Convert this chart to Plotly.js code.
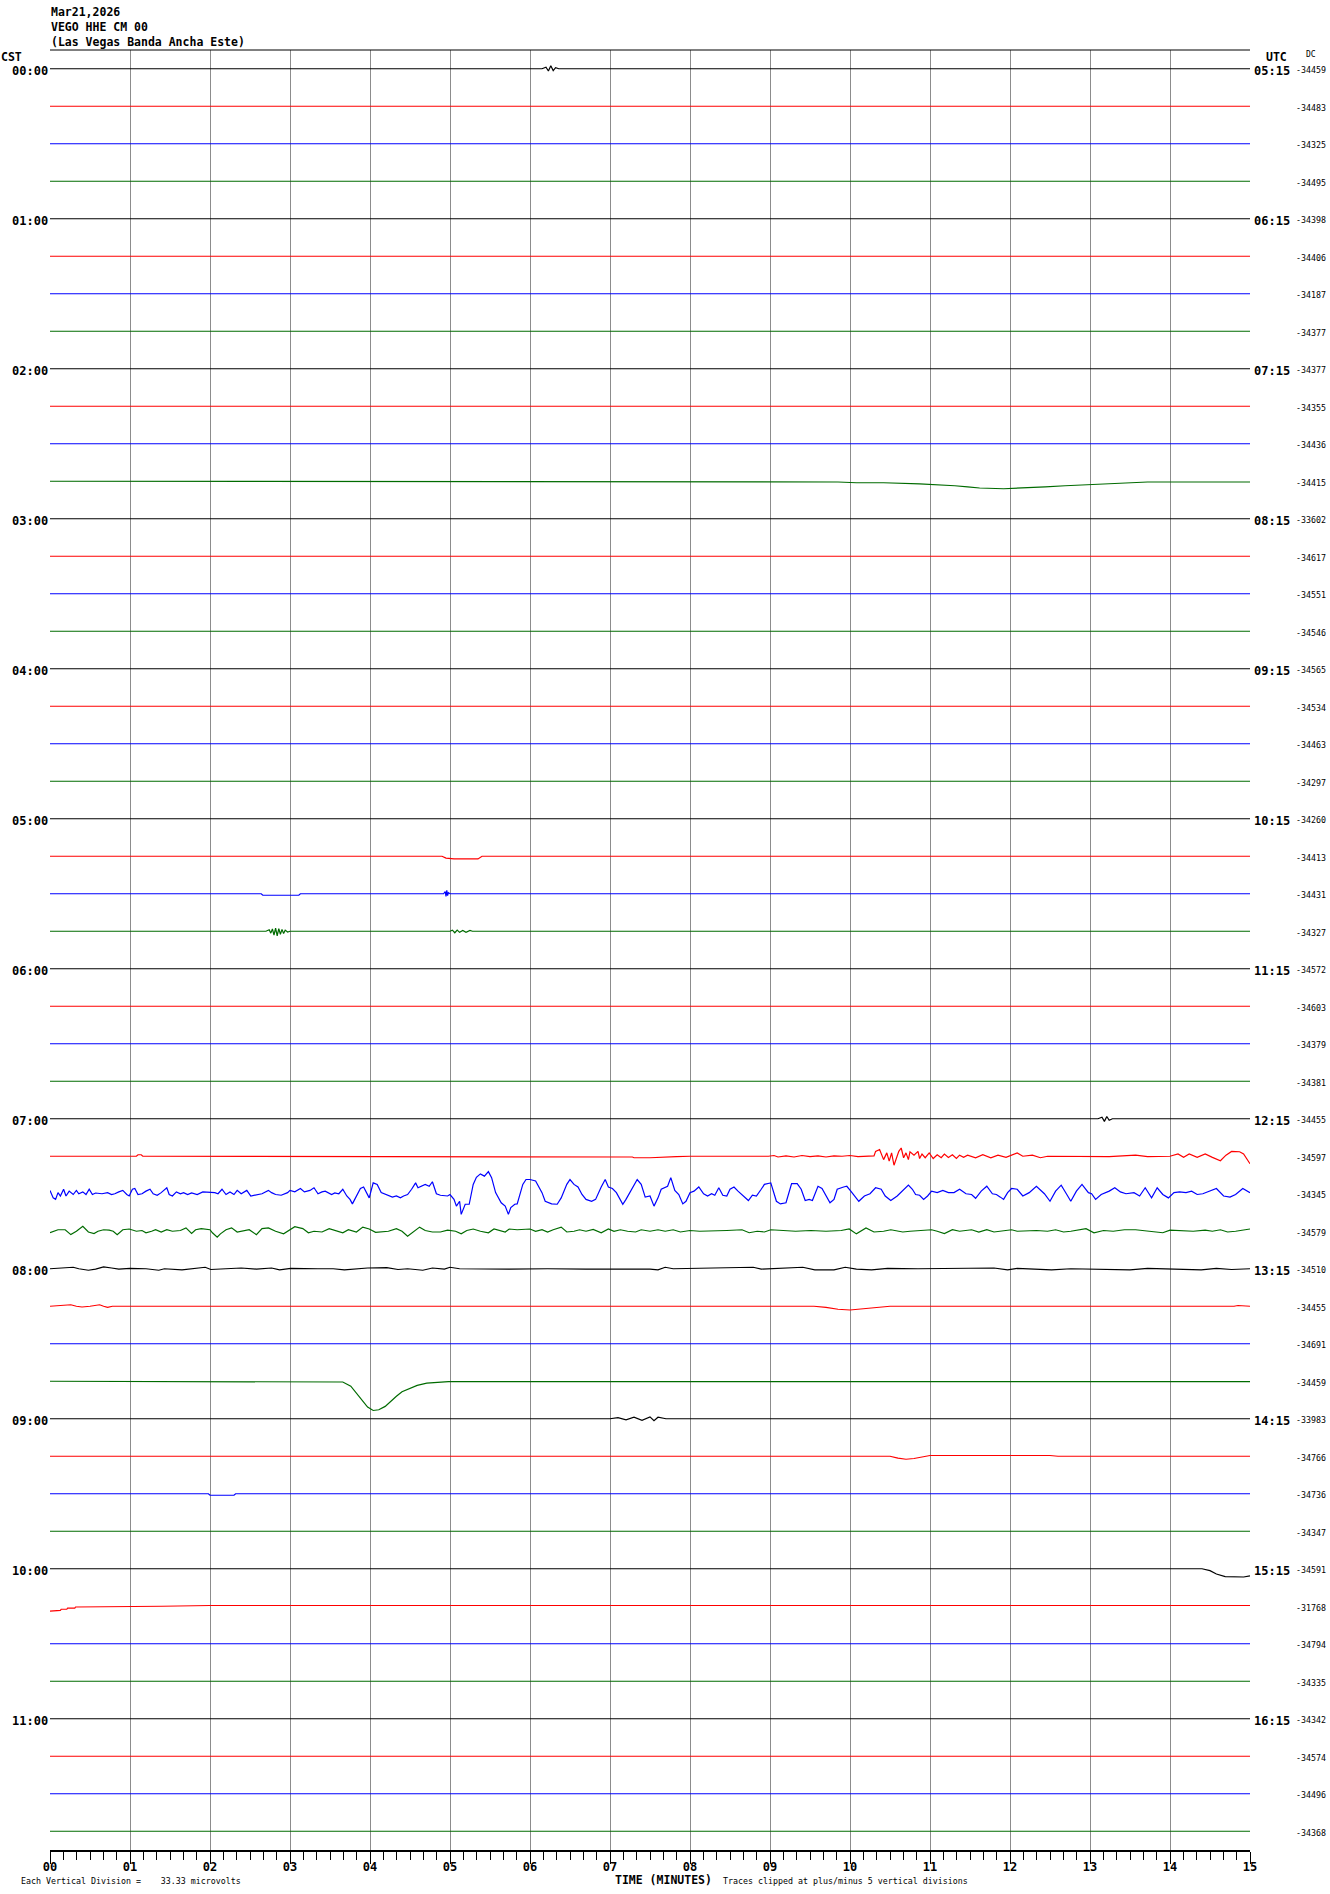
<!DOCTYPE html>
<html>
<head>
<meta charset="utf-8">
<script src="https://cdn.plot.ly/plotly-3.0.1.min.js"></script>
<style>
html,body{margin:0;padding:0;background:#fff;}
#chart{width:1330px;height:1894px;}
</style>
</head>
<body>
<div id="chart"></div>
<script>
// ---------------- DATA ----------------
const titleLines = ['Mar21,2026', 'VEGO HHE CM 00', '(Las Vegas Banda Ancha Este)'];
const tickLabels = ['00','01','02','03','04','05','06','07','08','09','10','11','12','13','14','15'];
const tickValues = [0,1,2,3,4,5,6,7,8,9,10,11,12,13,14,15];
const cstLabels = ['00:00','01:00','02:00','03:00','04:00','05:00','06:00','07:00','08:00','09:00','10:00','11:00'];
const utcLabels = ['05:15','06:15','07:15','08:15','09:15','10:15','11:15','12:15','13:15','14:15','15:15','16:15'];
const dcValues = [-34459,-34483,-34325,-34495,-34398,-34406,-34187,-34377,
                  -34377,-34355,-34436,-34415,-33602,-34617,-34551,-34546,
                  -34565,-34534,-34463,-34297,-34260,-34413,-34431,-34327,
                  -34572,-34603,-34379,-34381,-34455,-34597,-34345,-34579,
                  -34510,-34455,-34691,-34459,-33983,-34766,-34736,-34347,
                  -34591,-31768,-34794,-34335,-34342,-34574,-34496,-34368];
const traceColors = ['#000000', '#ff0000', '#0000ff', '#006b00'];
const nTraces = 48;
const scaleNote = 'Each Vertical Division =\u00a0\u00a0\u00a0\u00a033.33 microvolts';
const clipNote = 'Traces clipped at plus/minus 5 vertical divisions';

// quiet trace: time (minutes), deviation (percent of trace spacing, + = up)
const quietT = [0, 15];
const quietV = [0, 0];

// 00:00 black, small burst near 6.26 min
const t00 = [0, 6.15, 6.2, 6.23, 6.26, 6.29, 6.32, 6.36, 15];
const v00 = [0, 0, 4, -6, 8, -5, 3, 0, 0];

// 01:45 green, tiny sag
const t07 = [0, 9.0, 9.05, 9.4, 9.45, 15];
const v07 = [0, 0, -2, -2, 0, 0];

// 02:45 green, slow sag 10-14 min
const t11 = [0, 9.82, 9.85, 10.08, 10.42, 10.87, 11.11, 11.31, 11.47, 11.62, 11.92, 12.24, 12.44, 12.69, 12.91, 13.18, 13.50, 13.72, 15];
const v11 = [0, 0, -2, -4, -4, -7, -9, -12, -15, -18, -20, -18, -15, -12, -10, -6, -4, -2, -2];

// 03:00 black, small raise
const t12 = [0, 2.1, 2.2, 3.0, 3.05, 15];
const v12 = [0, 0, 2, 2, 0, 0];

// 05:15 red
const t21 = [0, 4.9, 4.95, 5.05, 5.35, 5.4, 15];
const v21 = [0, 0, -5, -7, -7, 0, 0];

// 05:30 blue
const t22 = [0, 2.64, 2.66, 3.11, 3.13, 4.92, 4.94, 4.95, 4.96, 4.97, 4.98, 5.0, 15];
const v22 = [0, 0, -4, -4, 0, 0, 6, -7, 9, -5, 3, 0, 0];

// 05:45 green, two small bursts
const t23 = [0, 2.7, 2.74, 2.76, 2.78, 2.80, 2.82, 2.84, 2.86, 2.88, 2.90, 2.92, 2.94, 2.97, 3.0, 5.0, 5.03, 5.06, 5.09, 5.12, 5.16, 5.2, 5.25, 5.28, 15];
const v23 = [0, 0, 4, -5, 6, -10, 8, -12, 7, -8, 5, -6, 3, -2, 0, 0, 3, -4, 3, -3, 2, -3, 2, 0, 0];

// 07:00 black, small burst near 13.2 min
const t28 = [0, 13.1, 13.15, 13.18, 13.21, 13.24, 13.28, 15];
const v28 = [0, 0, 4, -7, 6, -4, 0, 0];

// 07:15 red
const t29 = [0, 1.08, 1.1, 1.14, 1.16, 5.0, 5.02, 7.28, 7.30, 7.5, 7.83, 8.0, 8.98, 9.05, 9.1, 9.2, 9.3, 9.4, 9.5, 9.6, 9.7, 9.8, 9.9, 10.0, 10.1, 10.2, 10.3,
  10.32, 10.37, 10.42, 10.46, 10.49, 10.52, 10.55, 10.59, 10.61, 10.64, 10.67, 10.70, 10.73, 10.75, 10.80, 10.85, 10.87, 10.90, 10.94, 10.99,
  11.04, 11.09, 11.14, 11.18, 11.23, 11.28, 11.33, 11.37, 11.42, 11.47, 11.57, 11.66, 11.76, 11.85, 11.95, 12.09, 12.16, 12.28, 12.38, 12.47,
  12.76, 13.24, 13.57, 13.72, 14.00, 14.10, 14.17, 14.24, 14.34, 14.44, 14.53, 14.63, 14.70, 14.77, 14.87, 14.92, 15.0];
const v29 = [0, 0, 4, 4, 0, 0, -2, -2, -4, -4, -1, 0, 0, 2, -2, 1, -2, 2, -1, 1, -2, 1, 0, 2, -1, 0, 1,
  13, 18, -9, 9, -13, 9, -24, 4, 13, 22, -4, 9, -9, 12, 3, 13, -6, 6, -4, 9,
  -6, 4, -4, 6, -3, 4, -6, 3, -3, 3, -4, 4, -4, 3, -3, 9, 0, 3, -4, 0,
  0, -1, 3, -1, 0, 6, -3, 6, -3, 6, -3, -12, 3, 13, 12, 6, -20];

// 07:30 blue, long-period waves
const t30 = [0.00, 0.04, 0.07, 0.10, 0.13, 0.17, 0.20, 0.24, 0.29, 0.33, 0.36, 0.41, 0.45, 0.49, 0.53, 0.57, 0.65, 0.72, 0.77, 0.81, 0.86, 0.91, 0.96, 0.99,
  1.03, 1.06, 1.10, 1.15, 1.20, 1.25, 1.29, 1.34, 1.39, 1.46, 1.49, 1.53, 1.58, 1.63, 1.67, 1.72, 1.77, 1.84, 1.91,
  2.00, 2.06, 2.10, 2.15, 2.20, 2.25, 2.30, 2.34, 2.39, 2.46, 2.51, 2.58, 2.65, 2.73, 2.77, 2.82, 2.89, 2.97,
  3.00, 3.06, 3.13, 3.18, 3.25, 3.30, 3.35, 3.40, 3.44, 3.52, 3.56, 3.61, 3.66, 3.71, 3.75, 3.78, 3.83, 3.88, 3.92, 3.97, 3.99,
  4.04, 4.09, 4.14, 4.21, 4.28, 4.33, 4.38, 4.42, 4.47, 4.52, 4.57, 4.60, 4.64, 4.69, 4.74, 4.78, 4.83, 4.88, 4.97,
  5.00, 5.05, 5.08, 5.12, 5.14, 5.19, 5.24, 5.29, 5.33, 5.38, 5.43, 5.48, 5.52, 5.57, 5.64, 5.69, 5.73, 5.76, 5.81, 5.84, 5.91, 5.95,
  6.00, 6.07, 6.15, 6.19, 6.27, 6.34, 6.39, 6.46, 6.50, 6.55, 6.60, 6.65, 6.70, 6.77, 6.82, 6.89, 6.94, 6.98,
  7.03, 7.08, 7.13, 7.16, 7.20, 7.27, 7.34, 7.39, 7.44, 7.50, 7.55, 7.60, 7.64, 7.72, 7.76, 7.81, 7.86, 7.91, 7.95,
  8.00, 8.05, 8.11, 8.17, 8.22, 8.27, 8.31, 8.36, 8.41, 8.46, 8.50, 8.55, 8.60, 8.67, 8.73, 8.78, 8.83, 8.89, 8.93, 8.99,
  9.01, 9.08, 9.13, 9.20, 9.27, 9.34, 9.39, 9.44, 9.49, 9.53, 9.60, 9.65, 9.70, 9.75, 9.80, 9.84, 9.92, 9.96,
  10.01, 10.06, 10.11, 10.18, 10.25, 10.32, 10.39, 10.44, 10.51, 10.59, 10.66, 10.73, 10.78, 10.82, 10.87, 10.92, 10.97,
  11.02, 11.09, 11.16, 11.23, 11.30, 11.37, 11.45, 11.52, 11.57, 11.64, 11.71, 11.78, 11.83, 11.88, 11.92, 11.97,
  12.02, 12.09, 12.16, 12.24, 12.33, 12.43, 12.50, 12.57, 12.64, 12.71, 12.76, 12.83, 12.90, 12.98,
  13.02, 13.07, 13.14, 13.24, 13.31, 13.38, 13.45, 13.55, 13.62, 13.69, 13.77, 13.84, 13.91, 13.98,
  14.05, 14.12, 14.20, 14.27, 14.34, 14.41, 14.48, 14.58, 14.67, 14.75, 14.82, 14.91, 15.00];
const v30 = [9, -11, -15, 3, -6, 12, -6, 7, -2, 9, 0, 5, -2, 12, -2, 2, 0, 3, -2, 0, 5, 9, -2, -6,
  12, 14, -2, 0, 7, 12, 0, -4, 3, 16, -2, -6, 5, 0, 3, -2, 2, -2, 5,
  5, 3, 0, 12, -2, 5, -2, 9, 0, 9, -6, -4, 0, 9, 3, -2, -4, 3,
  9, 5, 14, 5, 9, 16, 0, 5, 7, -2, 2, 0, 12, -6, -15, -27, -6, 14, 18, -6, -11,
  29, 25, 3, -2, -9, -6, -11, -6, -2, 12, 29, 16, 20, 25, 20, 32, 0, -4, -6,
  -2, -15, -33, -20, -55, -28, -28, 25, 44, 53, 47, 59, 43, 3, -24, -33, -55, -37, -28, -27, 25, 38,
  38, 34, 3, -20, -27, -28, -11, 25, 38, 25, 18, -2, -15, -20, -15, 18, 38, 18,
  14, 3, -15, -28, -15, 12, 38, 25, -9, -6, -33, -11, 12, 20, 43, 9, -2, -27, -20,
  3, 7, 18, 0, -6, 0, -4, 16, -4, -6, 12, 18, 7, -6, -18, -4, -6, 12, 25, 28,
  29, -20, -27, -24, 27, 27, 12, -18, -15, -18, 20, 14, -6, -24, -15, 12, 18, 20,
  7, -6, -20, -6, 0, 16, 12, -6, -18, -6, 9, 23, 12, -2, -4, -15, -6,
  7, 3, 9, 3, 3, 12, 0, -2, -12, 7, 20, 0, -2, -9, -15, 3,
  14, 12, -6, 3, 20, 0, -20, 7, 23, -2, -20, 7, 25, 3,
  0, -15, -2, 7, 16, 5, 0, 3, -6, 16, -11, 16, -2, -11,
  3, 5, 3, 7, -2, 0, 5, 14, -6, -9, -2, 14, 3];

// 07:45 green, short-period ripples
const t31 = [0.00, 0.10, 0.19, 0.26, 0.33, 0.41, 0.48, 0.55, 0.60, 0.67, 0.74, 0.79, 0.84, 0.91, 0.99,
  1.08, 1.15, 1.20, 1.27, 1.32, 1.39, 1.46, 1.53, 1.63, 1.70, 1.77, 1.82, 1.89,
  2.00, 2.03, 2.09, 2.13, 2.20, 2.27, 2.34, 2.42, 2.49, 2.58, 2.65, 2.73, 2.82, 2.92,
  3.00, 3.06, 3.16, 3.23, 3.30, 3.40, 3.49, 3.59, 3.66, 3.73, 3.83, 3.91, 3.99,
  4.07, 4.16, 4.23, 4.33, 4.40, 4.47, 4.54, 4.62, 4.69, 4.78, 4.88, 4.97,
  5.07, 5.14, 5.21, 5.29, 5.38, 5.48, 5.55, 5.62, 5.69, 5.74, 5.84,
  6.00, 6.07, 6.15, 6.22, 6.29, 6.39, 6.46, 6.55, 6.62, 6.70, 6.79, 6.89, 6.98,
  7.05, 7.13, 7.22, 7.32, 7.39, 7.50, 7.60, 7.69, 7.79, 7.88,
  8.00, 8.12, 8.27, 8.46, 8.65, 8.74, 8.84, 8.93, 9.01, 9.13, 9.32, 9.51, 9.70, 9.89, 9.99,
  10.08, 10.20, 10.30, 10.42, 10.51, 10.66, 10.75, 11.02, 11.09, 11.18, 11.28, 11.37, 11.52, 11.61, 11.71, 11.80,
  12.02, 12.09, 12.33, 12.47, 12.57, 12.67, 12.76, 12.86, 12.95, 13.05, 13.17, 13.29, 13.43, 13.57, 13.72, 13.91,
  14.00, 14.10, 14.29, 14.44, 14.53, 14.63, 14.72, 14.82, 14.91, 15.00];
const v31 = [-4, 4, 4, -9, 0, 13, -2, -6, 0, 4, 3, 0, -9, 4, 6,
  0, 2, -4, 0, 4, -2, 4, 0, 2, 9, -6, 4, 7,
  4, -4, -16, -7, 4, 9, -2, 2, 4, -9, 7, 9, 0, -7,
  4, 12, 7, -4, 0, -2, 7, 0, -4, 4, -2, 11, 6,
  -3, -2, 0, 7, 0, -13, -2, 11, 2, -2, -2, 3,
  0, -7, 2, 6, 0, -4, 6, 2, -2, 6, 4,
  6, 0, 4, -2, 4, 11, -2, 0, 4, 0, 5, -4, 6,
  0, 4, 0, -2, 4, 0, 4, 0, 4, -2,
  2, 0, 0, 2, 4, -4, 0, -2, 4, 3, 0, 2, 0, 2, 6,
  -7, 9, -2, 0, 4, -2, 0, 4, 0, -6, 4, 0, 4, -2, 4, -2,
  4, 0, 2, 0, 4, -2, 0, 4, 7, -4, 2, 0, 4, 4, 0, -4,
  3, 2, 0, 3, 0, 4, -2, 0, 4, 6];

// 08:00 black, gentle wiggles
const t32 = [0, 0.29, 0.36, 0.48, 0.57, 0.67, 0.77, 0.86, 1.00, 1.20, 1.36, 1.43, 1.65, 1.82, 1.94, 2.01, 2.20, 2.39, 2.58, 2.77, 2.87,
  3.01, 3.35, 3.54, 3.68, 3.87, 3.97, 4.21, 4.35, 4.47, 4.66, 4.78, 4.93, 5.00, 5.12, 5.74, 6.22, 6.70, 7.17, 7.5, 7.60, 7.69, 7.79,
  8.03, 8.31, 8.79, 8.89, 9.41, 9.56, 9.80, 9.94, 10.08, 10.27, 10.47, 10.85, 11.80, 11.97, 12.09, 12.52, 12.76, 13.50, 13.72, 14.39, 14.58, 14.77, 15];
const v32 = [0, 4, 0, -4, -1, 5, 2, -1, 1, 0, -4, 0, -3, 2, 4, -2, 0, 2, -1, 2, -3,
  1, 0, 0, -3, 0, 2, 3, -2, 0, -4, 2, -1, 4, 0, -1, 0, -1, 0, -1, -3, 4, 0,
  1, 2, 4, -1, 4, -3, -3, 4, -1, -3, 1, 0, 2, -3, 1, -3, 0, -3, 1, -3, 1, -2, 0];

// 08:15 red, shallow dip near 10 min
const t33 = [0, 0.26, 0.33, 0.40, 0.5, 0.62, 0.67, 0.72, 0.78, 1.3, 1.35, 1.4, 9.55, 9.7, 9.85, 10.0, 10.1, 10.25, 10.4, 10.5, 14.8, 14.85, 15];
const v33 = [0, 4, 0, -2, 0, 4, 0, -3, 0, 0, -2, 0, 0, -3, -8, -10, -8, -3, -1, 0, 0, 2, 0];

// 08:45 green, large dip near 4 min
const t35 = [0, 3.66, 3.76, 3.83, 3.90, 3.97, 4.04, 4.11, 4.19, 4.26, 4.33, 4.40, 4.50, 4.59, 4.71, 4.83, 4.98, 15];
const v35 = [0, -2, -13, -31, -49, -69, -78, -76, -67, -53, -40, -28, -18, -11, -5, -3, -1, -1];

// 09:00 black, noise patch
const t36 = [0, 7.0, 7.1, 7.2, 7.3, 7.4, 7.5, 7.55, 7.6, 7.7, 15];
const v36 = [0, 0, 3, -3, 4, -4, 5, -5, 4, 0, 0];

// 09:15 red
const t37 = [0, 10.5, 10.6, 10.7, 10.8, 10.9, 11.0, 12.5, 12.6, 15];
const v37 = [0, 0, -5, -8, -6, -1, 2, 2, 0, 0];

// 09:30 blue
const t38 = [0, 1.98, 2.0, 2.3, 2.32, 15];
const v38 = [0, 0, -4, -4, 0, 0];

// 10:00 black, drop at end
const t40 = [0, 14.40, 14.50, 14.58, 14.69, 14.77, 14.92, 15.0];
const v40 = [0, 0, -5, -14, -21, -22, -22, -19];

// 10:15 red, recovering offset at start
const t41 = [0, 0.04, 0.05, 0.13, 0.14, 0.21, 0.22, 0.31, 0.32, 0.48, 0.49, 1.4, 2.0, 15];
const v41 = [-13, -13, -11, -11, -8, -8, -5, -5, -2, -2, 0, 0, 2, 2];

// ---------------- BUILD ----------------
const featureSeries = {
  0: [t00, v00], 7: [t07, v07], 11: [t11, v11], 12: [t12, v12],
  21: [t21, v21], 22: [t22, v22], 23: [t23, v23], 28: [t28, v28],
  29: [t29, v29], 30: [t30, v30], 31: [t31, v31], 32: [t32, v32],
  33: [t33, v33], 35: [t35, v35], 36: [t36, v36], 37: [t37, v37],
  38: [t38, v38], 40: [t40, v40], 41: [t41, v41]
};

const FONT = 'DejaVu Sans Mono';
const PLOT_L = 50, PLOT_R = 1250, PLOT_T = 50, PLOT_B = 1850;
function px2x(px){ return (px - PLOT_L) / (PLOT_R - PLOT_L); }
function py2y(py){ return (PLOT_B - py) / (PLOT_B - PLOT_T); }

const data = [];
for (let i = 0; i < nTraces; i++) {
  const s = featureSeries[i] || [quietT, quietV];
  data.push({
    type: 'scatter', mode: 'lines',
    x: s[0],
    y: s[1].map(v => i - v / 100),
    line: {color: traceColors[i % 4], width: 1.2},
    hoverinfo: 'skip', showlegend: false
  });
}

const ann = [];
titleLines.forEach((t, k) => {
  ann.push({xref:'paper', yref:'paper', x: px2x(50), y: py2y(12 + 15 * k), xanchor:'left', yanchor:'middle',
    text: t, showarrow:false, font:{family:FONT, size:11.5, color:'#000', weight:'bold'}, borderpad:0});
});
ann.push({xref:'paper', yref:'paper', x: px2x(0), y: py2y(57), xanchor:'left', yanchor:'middle',
  text:'CST', showarrow:false, font:{family:FONT, size:11.5, color:'#000', weight:'bold'}, borderpad:0});
ann.push({xref:'paper', yref:'paper', x: px2x(1265), y: py2y(57), xanchor:'left', yanchor:'middle',
  text:'UTC', showarrow:false, font:{family:FONT, size:11.5, color:'#000', weight:'bold'}, borderpad:0});
ann.push({xref:'paper', yref:'paper', x: px2x(1311), y: py2y(54), xanchor:'center', yanchor:'middle',
  text:'DC', showarrow:false, font:{family:FONT, size:8, color:'#000'}, borderpad:0});
cstLabels.forEach((t, k) => {
  ann.push({xref:'paper', yref:'y', x: px2x(49), y: k * 4, xanchor:'right', yanchor:'middle', yshift:-2,
    text:t, showarrow:false, font:{family:FONT, size:12, color:'#000', weight:'bold'}, borderpad:0});
});
utcLabels.forEach((t, k) => {
  ann.push({xref:'paper', yref:'y', x: px2x(1253), y: k * 4, xanchor:'left', yanchor:'middle', yshift:-2,
    text:t, showarrow:false, font:{family:FONT, size:12, color:'#000', weight:'bold'}, borderpad:0});
});
dcValues.forEach((v, k) => {
  ann.push({xref:'paper', yref:'y', x: px2x(1295), y: k, xanchor:'left', yanchor:'middle', yshift:-1.5,
    text:String(v), showarrow:false, font:{family:FONT, size:8.3, color:'#000'}, borderpad:0});
});
ann.push({xref:'paper', yref:'paper', x: px2x(20), y: py2y(1881), xanchor:'left', yanchor:'middle',
  text:scaleNote, showarrow:false, font:{family:FONT, size:8.3, color:'#000'}, borderpad:0});
ann.push({xref:'paper', yref:'paper', x: px2x(614), y: py2y(1880), xanchor:'left', yanchor:'middle',
  text:'TIME (MINUTES)', showarrow:false, font:{family:FONT, size:11.5, color:'#000', weight:'bold'}, borderpad:0});
ann.push({xref:'paper', yref:'paper', x: px2x(722), y: py2y(1881), xanchor:'left', yanchor:'middle',
  text:clipNote, showarrow:false, font:{family:FONT, size:8.3, color:'#000'}, borderpad:0});

const layout = {
  width: 1330, height: 1894,
  margin: {l: 50, r: 80, t: 50, b: 44, pad: 0},
  paper_bgcolor: '#ffffff', plot_bgcolor: '#ffffff',
  showlegend: false,
  xaxis: {
    range: [0, 15], tickmode: 'array', tickvals: tickValues, ticktext: tickLabels,
    ticks: 'outside', ticklen: 12, tickwidth: 1, tickcolor: '#000',
    ticklabelstandoff: -7,
    showline: true, linecolor: '#000', linewidth: 2, mirror: false,
    showgrid: true, gridcolor: '#8c8c8c', gridwidth: 1, zeroline: false,
    tickfont: {family: FONT, size: 12, color: '#000', weight: 'bold'},
    minor: {tickmode: 'linear', tick0: 0, dtick: 1/6, ticks: 'outside', ticklen: 8, tickwidth: 1, tickcolor: '#000', showgrid: false},
    fixedrange: true
  },
  yaxis: {
    range: [47.5, -0.5], showgrid: false, zeroline: false, showticklabels: false,
    ticks: '', showline: false, fixedrange: true
  },
  shapes: [
    {type: 'line', xref: 'paper', yref: 'paper', x0: 0, x1: 1, y0: 1, y1: 1, line: {color: '#000', width: 1}}
  ],
  annotations: ann
};

Plotly.newPlot('chart', data, layout, {staticPlot: true, displayModeBar: false});
</script>
</body>
</html>
